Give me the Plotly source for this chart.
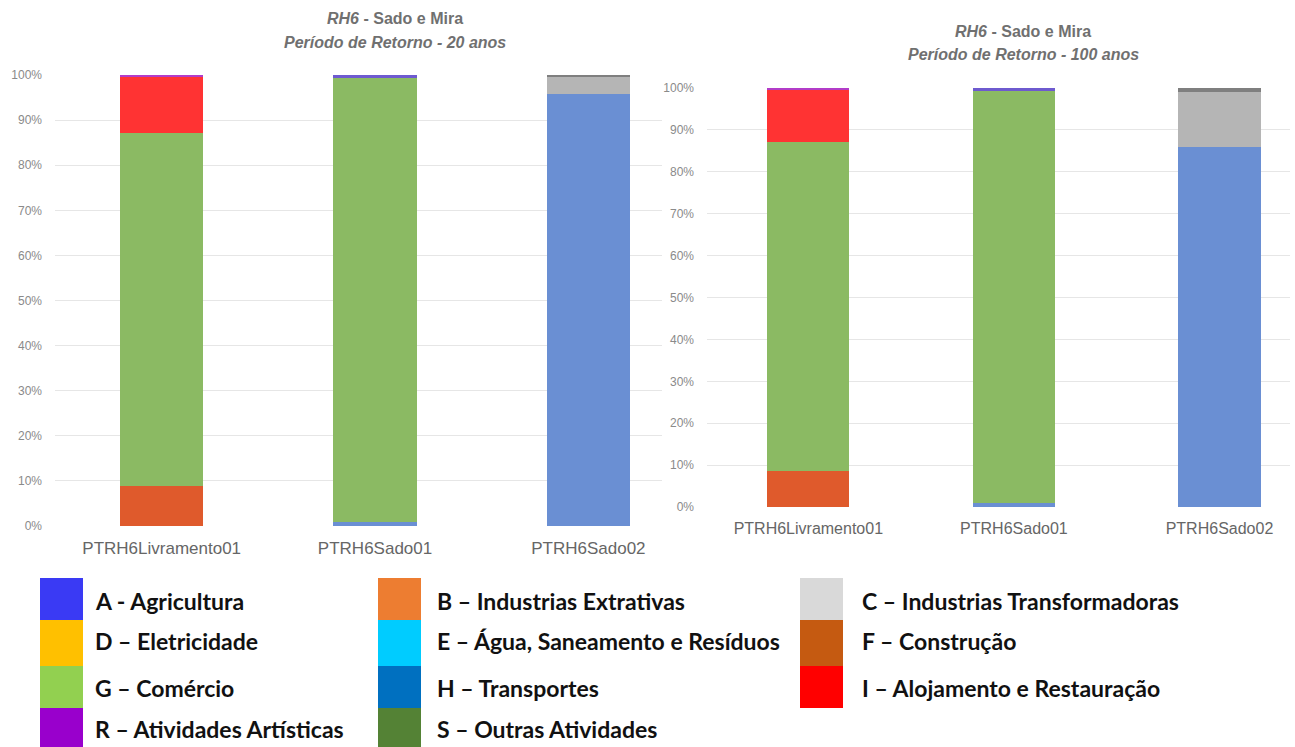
import plotly.graph_objects as go

W, H = 1295, 747

stations = ["PTRH6Livramento01", "PTRH6Sado01", "PTRH6Sado02"]

# series (percent), chart 1: return period 20 years
t20_H = [0.0, 0.8, 95.7]
t20_F = [8.9, 0.0, 0.0]
t20_G = [78.2, 98.6, 0.0]
t20_I = [12.4, 0.0, 0.0]
t20_C = [0.0, 0.0, 3.8]
t20_A = [0.0, 0.6, 0.0]
t20_R = [0.5, 0.0, 0.0]
t20_X = [0.0, 0.0, 0.5]

# chart 2: return period 100 years
t100_H = [0.0, 1.0, 85.9]
t100_F = [8.6, 0.0, 0.0]
t100_G = [78.5, 98.3, 0.0]
t100_I = [12.4, 0.0, 0.0]
t100_C = [0.0, 0.0, 13.2]
t100_A = [0.0, 0.7, 0.0]
t100_R = [0.5, 0.0, 0.0]
t100_X = [0.0, 0.0, 0.9]

series_names = ["H – Transportes", "F – Construção", "G – Comércio", "I – Alojamento e Restauração",
                "C – Industrias Transformadoras", "A - Agricultura", "R – Atividades Artísticas", "Outros"]
bar_colors = ["#6A8FD3", "#DF5A2C", "#8BBA63", "#FF3333", "#B5B5B5", "#6E5ACF", "#B23CC8", "#7F7F7F"]
chart20 = [t20_H, t20_F, t20_G, t20_I, t20_C, t20_A, t20_R, t20_X]
chart100 = [t100_H, t100_F, t100_G, t100_I, t100_C, t100_A, t100_R, t100_X]

y_ticks = [0, 10, 20, 30, 40, 50, 60, 70, 80, 90, 100]
y_tick_labels = ["0%", "10%", "20%", "30%", "40%", "50%", "60%", "70%", "80%", "90%", "100%"]

legend_labels = ["A - Agricultura", "D – Eletricidade", "G – Comércio", "R – Atividades Artísticas",
                 "B – Industrias Extrativas", "E – Água, Saneamento e Resíduos", "H – Transportes",
                 "S – Outras Atividades",
                 "C – Industrias Transformadoras", "F – Construção", "I – Alojamento e Restauração"]
legend_colors = ["#3A3AF4", "#FFC000", "#92D050", "#9900CC",
                 "#ED7D31", "#00CCFF", "#0070C0", "#548235",
                 "#D9D9D9", "#C55A11", "#FF0000"]
legend_rows_per_col = 4

fig = go.Figure()
for vals, name, col in zip(chart20, series_names, bar_colors):
    fig.add_trace(go.Bar(x=stations, y=vals, name=name, marker=dict(color=col, line=dict(width=0)),
                         width=0.39, xaxis="x", yaxis="y", showlegend=False))
for vals, name, col in zip(chart100, series_names, bar_colors):
    fig.add_trace(go.Bar(x=stations, y=vals, name=name, marker=dict(color=col, line=dict(width=0)),
                         width=0.40, xaxis="x2", yaxis="y2", showlegend=False))

def px_x(v):
    return v / W

def px_y(v):
    return 1 - v / H

tickfont = dict(family="Liberation Sans", size=12, color="#8a8a8a")
yax = dict(range=[0, 100], tickmode="array", tickvals=y_ticks, ticktext=y_tick_labels,
           showgrid=True, gridcolor="#e6e6e6", gridwidth=1, zeroline=False, showline=False, ticks="",
           tickfont=tickfont, ticklabelstandoff=12, automargin=False, fixedrange=True)

fig.update_layout(
    width=W, height=H, margin=dict(l=0, r=0, t=0, b=0, pad=0, autoexpand=False),
    paper_bgcolor="white", plot_bgcolor="white", barmode="stack", showlegend=False,
    xaxis=dict(domain=[px_x(55), px_x(662)], range=[-0.5, 2.345], showgrid=False, showline=False,
               ticks="", tickfont=dict(family="Liberation Sans", size=17, color="#666"),
               ticklabelstandoff=10, anchor="y", automargin=False),
    yaxis=dict(domain=[px_y(526), px_y(75)], anchor="x", **yax),
    xaxis2=dict(domain=[px_x(707), px_x(1290)], range=[-0.493, 2.343], showgrid=False, showline=False,
                ticks="", tickfont=dict(family="Liberation Sans", size=16, color="#666"),
                ticklabelstandoff=10, anchor="y2", automargin=False),
    yaxis2=dict(domain=[px_y(507), px_y(88)], anchor="x2", **yax),
)

title_font = dict(family="Liberation Sans", size=16, color="#707070")
titles = [
    ("<b><i>RH6</i> - Sado e Mira</b>", 395, 19),
    ("<b><i>Período de Retorno - 20 anos</i></b>", 395, 42),
    ("<b><i>RH6</i> - Sado e Mira</b>", 1023, 32),
    ("<b><i>Período de Retorno - 100 anos</i></b>", 1023, 54),
]
annotations = []
for txt, x, y in titles:
    annotations.append(dict(text=txt, x=px_x(x), y=px_y(y), xref="paper", yref="paper",
                            xanchor="center", yanchor="middle", showarrow=False, font=title_font))

# custom legend grid (column-major)
col_box_x = [40, 378, 800]
col_text_x = [93, 435, 860]
box_w = 43
row_top = [578, 620, 666, 708]
row_bot = [620, 666, 708, 747]
row_text_y = [601, 641, 688, 729]
shapes = []
for i, (lab, c) in enumerate(zip(legend_labels, legend_colors)):
    col, row = divmod(i, legend_rows_per_col)
    shapes.append(dict(type="rect", xref="paper", yref="paper",
                       x0=px_x(col_box_x[col]), x1=px_x(col_box_x[col] + box_w),
                       y0=px_y(row_bot[row]), y1=px_y(row_top[row]),
                       fillcolor=c, line=dict(width=0)))
    annotations.append(dict(text="<b>" + lab + "</b>", x=px_x(col_text_x[col]), y=px_y(row_text_y[row]),
                            xref="paper", yref="paper", xanchor="left", yanchor="middle",
                            showarrow=False, font=dict(family="Lato", size=23, color="#111")))

fig.update_layout(annotations=annotations, shapes=shapes)
fig.write_html("out.html")
